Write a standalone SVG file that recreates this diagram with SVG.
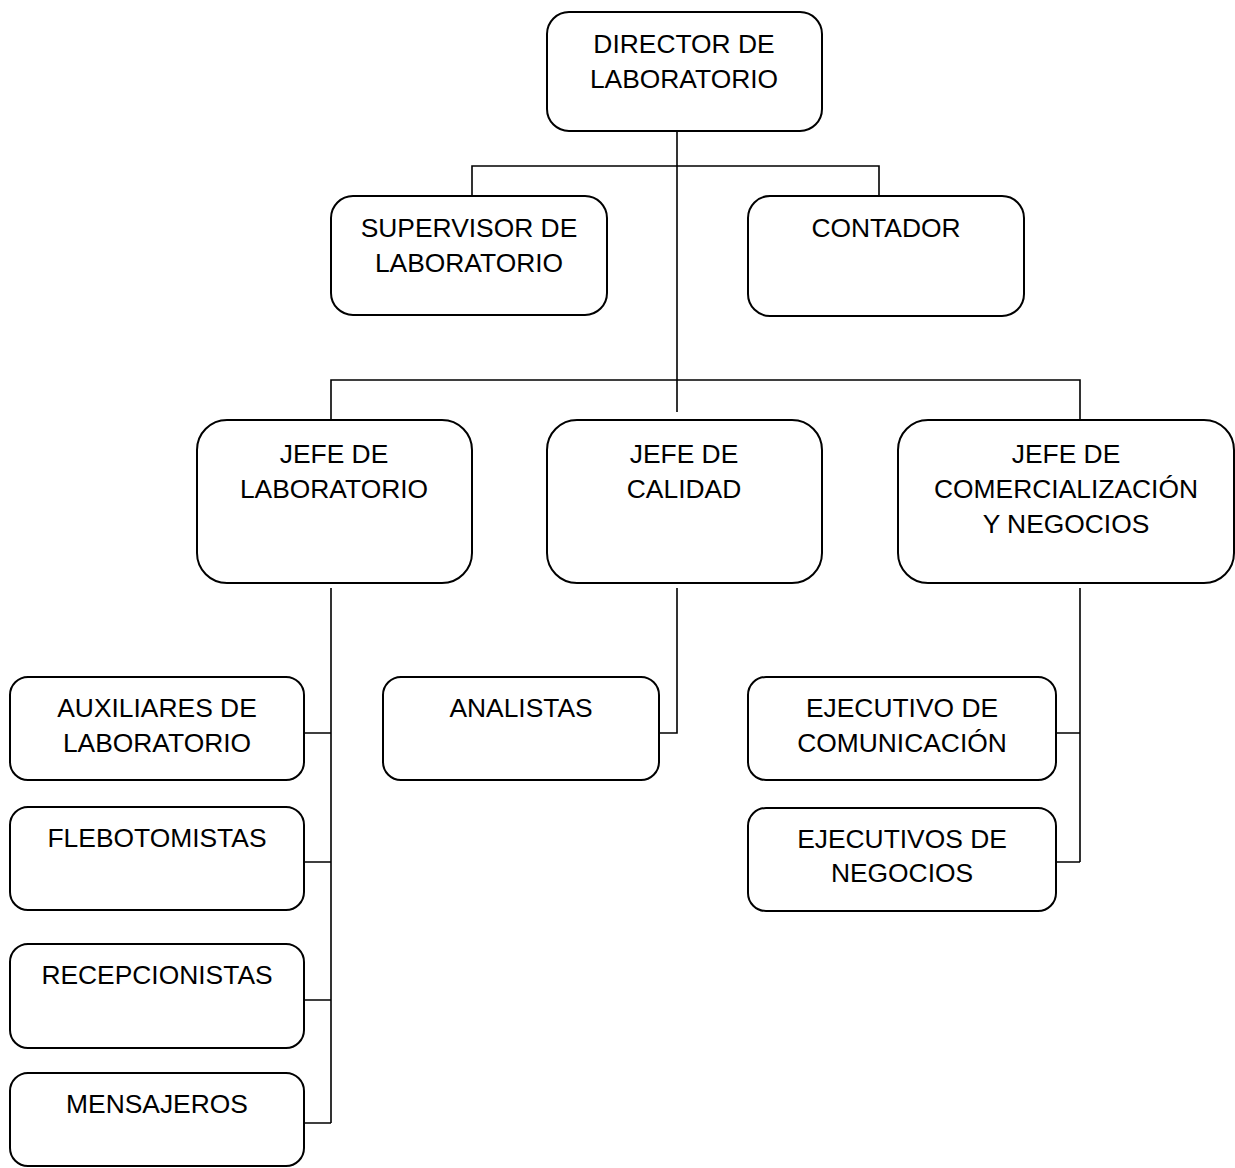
<svg xmlns="http://www.w3.org/2000/svg" width="1235" height="1168" viewBox="0 0 1235 1168">
  <style>
    .box { fill: #ffffff; stroke: #000000; stroke-width: 2; }
    .lbl { font-family: "Liberation Sans", Arial, sans-serif; font-size: 26.4px; fill: #000000; text-anchor: middle; }
    .wire { fill: none; stroke: #000000; stroke-width: 1.6; }
  </style>
  <rect width="1235" height="1168" fill="#ffffff"/>

  <!-- connectors -->
  <g id="connectors" class="wire">
    <path d="M677,131 V412"/>
    <path d="M472,196 V166 H879 V196"/>
    <path d="M331,420 V380 H1080 V420"/>
    <path d="M331,588 V1123 M305,733 H331 M305,862 H331 M305,1000 H331 M305,1123 H331"/>
    <path d="M677,588 V733 H659"/>
    <path d="M1080,588 V862 M1056,733 H1080 M1056,862 H1080"/>
  </g>

  <g id="director">
    <rect class="box" x="547" y="12" width="275" height="119" rx="22"/>
    <text class="lbl" x="684" y="53">DIRECTOR DE</text>
    <text class="lbl" x="684" y="88">LABORATORIO</text>
  </g>

  <g id="supervisor">
    <rect class="box" x="331" y="196" width="276" height="119" rx="22"/>
    <text class="lbl" x="469" y="237">SUPERVISOR DE</text>
    <text class="lbl" x="469" y="272">LABORATORIO</text>
  </g>

  <g id="contador">
    <rect class="box" x="748" y="196" width="276" height="120" rx="22"/>
    <text class="lbl" x="886" y="237">CONTADOR</text>
  </g>

  <g id="jefe-laboratorio">
    <rect class="box" x="197" y="420" width="275" height="163" rx="30"/>
    <text class="lbl" x="334" y="463">JEFE DE</text>
    <text class="lbl" x="334" y="498">LABORATORIO</text>
  </g>

  <g id="jefe-calidad">
    <rect class="box" x="547" y="420" width="275" height="163" rx="30"/>
    <text class="lbl" x="684" y="463">JEFE DE</text>
    <text class="lbl" x="684" y="498">CALIDAD</text>
  </g>

  <g id="jefe-comercializacion">
    <rect class="box" x="898" y="420" width="336" height="163" rx="30"/>
    <text class="lbl" x="1066" y="463">JEFE DE</text>
    <text class="lbl" x="1066" y="498">COMERCIALIZACIÓN</text>
    <text class="lbl" x="1066" y="533">Y NEGOCIOS</text>
  </g>

  <g id="auxiliares">
    <rect class="box" x="10" y="677" width="294" height="103" rx="18"/>
    <text class="lbl" x="157" y="717">AUXILIARES DE</text>
    <text class="lbl" x="157" y="752">LABORATORIO</text>
  </g>

  <g id="flebotomistas">
    <rect class="box" x="10" y="807" width="294" height="103" rx="18"/>
    <text class="lbl" x="157" y="847">FLEBOTOMISTAS</text>
  </g>

  <g id="recepcionistas">
    <rect class="box" x="10" y="944" width="294" height="104" rx="18"/>
    <text class="lbl" x="157" y="984">RECEPCIONISTAS</text>
  </g>

  <g id="mensajeros">
    <rect class="box" x="10" y="1073" width="294" height="93" rx="18"/>
    <text class="lbl" x="157" y="1113">MENSAJEROS</text>
  </g>

  <g id="analistas">
    <rect class="box" x="383" y="677" width="276" height="103" rx="18"/>
    <text class="lbl" x="521" y="717">ANALISTAS</text>
  </g>

  <g id="ejecutivo-comunicacion">
    <rect class="box" x="748" y="677" width="308" height="103" rx="18"/>
    <text class="lbl" x="902" y="717">EJECUTIVO DE</text>
    <text class="lbl" x="902" y="752">COMUNICACIÓN</text>
  </g>

  <g id="ejecutivos-negocios">
    <rect class="box" x="748" y="808" width="308" height="103" rx="18"/>
    <text class="lbl" x="902" y="848">EJECUTIVOS DE</text>
    <text class="lbl" x="902" y="882">NEGOCIOS</text>
  </g>
</svg>
